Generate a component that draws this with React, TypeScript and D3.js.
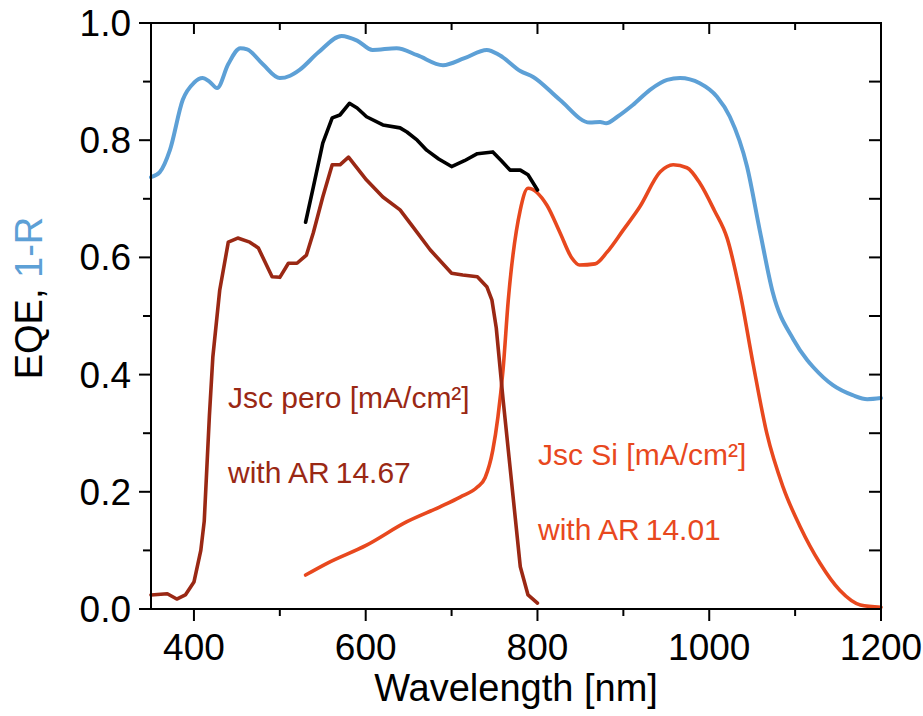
import * as d3 from "d3";
import { useEffect } from "react";

// 1-R (blue)
const reflNm = [350, 360, 372, 387, 400, 410, 418, 427, 440, 454, 462, 480, 500, 512, 523, 545, 572, 590, 608, 636, 660, 690, 715, 741, 756, 780, 795, 826, 861, 873, 880, 893, 911, 931, 951, 966, 989, 1009, 1024, 1044, 1059, 1074, 1098, 1114, 1121, 1144, 1167, 1184, 1200];
const reflVal = [0.737, 0.745, 0.783, 0.869, 0.898, 0.906, 0.9, 0.889, 0.93, 0.957, 0.955, 0.93, 0.906, 0.91, 0.92, 0.95, 0.978, 0.97, 0.954, 0.957, 0.945, 0.928, 0.94, 0.954, 0.945, 0.918, 0.908, 0.869, 0.83, 0.831, 0.829, 0.84, 0.86, 0.886, 0.903, 0.906, 0.897, 0.874, 0.84, 0.755, 0.645, 0.54, 0.46, 0.425, 0.413, 0.382, 0.365, 0.358, 0.36];

// sum EQE (black)
const sumNm = [530, 539, 550, 561, 570, 581, 590, 601, 620, 640, 648, 660, 671, 685, 700, 715, 730, 748, 758, 768, 780, 789, 800];
const sumVal = [0.66, 0.72, 0.795, 0.838, 0.843, 0.863, 0.855, 0.84, 0.826, 0.821, 0.814, 0.8, 0.783, 0.768, 0.755, 0.765, 0.777, 0.78, 0.765, 0.749, 0.749, 0.741, 0.715];

// perovskite EQE (dark red)
const peroNm = [350, 369, 380, 390, 400, 408, 412, 418, 422, 430, 440, 451, 465, 475, 491, 500, 510, 520, 531, 539, 550, 561, 570, 580, 601, 620, 640, 655, 675, 700, 713, 730, 741, 747, 752, 760, 772, 780, 789, 800];
const peroVal = [0.024, 0.026, 0.017, 0.024, 0.046, 0.1, 0.15, 0.33, 0.43, 0.544, 0.626, 0.633, 0.626, 0.616, 0.567, 0.566, 0.59, 0.59, 0.604, 0.642, 0.703, 0.758, 0.758, 0.771, 0.732, 0.703, 0.681, 0.652, 0.613, 0.573, 0.57, 0.567, 0.55, 0.527, 0.48, 0.357, 0.186, 0.072, 0.024, 0.01];

// silicon EQE (orange)
const siNm = [530, 555, 601, 648, 686, 710, 730, 739, 748, 754, 760, 766, 780, 789, 811, 826, 840, 849, 867, 881, 900, 919, 943, 958, 974, 989, 1006, 1021, 1036, 1051, 1067, 1086, 1106, 1129, 1152, 1176, 1200];
const siVal = [0.058, 0.078, 0.109, 0.149, 0.174, 0.191, 0.208, 0.224, 0.271, 0.328, 0.41, 0.527, 0.681, 0.718, 0.689, 0.643, 0.599, 0.587, 0.589, 0.609, 0.647, 0.686, 0.746, 0.758, 0.753, 0.727, 0.68, 0.632, 0.539, 0.419, 0.3, 0.208, 0.14, 0.078, 0.032, 0.007, 0.003];

const xTicks = [400, 600, 800, 1000, 1200];
const xMinor = [500, 700, 900, 1100];
const yTicks = [0, 0.2, 0.4, 0.6, 0.8, 1.0];
const yMinor = [0.1, 0.3, 0.5, 0.7, 0.9];

const BLUE = "#5da0d6";
const DARKRED = "#9a2814";
const ORANGE = "#e8481e";
const FONT = "'Liberation Sans', Arial, sans-serif";

export default function App() {
  const width = 923,
    height = 716;
  const left = 151,
    right = 881,
    top = 23,
    bottom = 609;

  const drawChart = () => {
    d3.select("#eqe-chart").selectAll("*").remove();
    const svg = d3
      .select("#eqe-chart")
      .append("svg")
      .attr("width", width)
      .attr("height", height)
      .style("position", "absolute")
      .style("left", "0px")
      .style("top", "0px")
      .style("background", "#fff");

    const x = d3.scaleLinear().domain([350, 1200]).range([left, right]);
    const y = d3.scaleLinear().domain([0, 1]).range([bottom, top]);

    const line = d3
      .line<[number, number]>()
      .x((d) => x(d[0]))
      .y((d) => y(d[1]));

    const series = [
      { nm: reflNm, val: reflVal, color: BLUE, w: 4, curve: d3.curveMonotoneX },
      { nm: siNm, val: siVal, color: ORANGE, w: 3.6, curve: d3.curveMonotoneX },
      { nm: peroNm, val: peroVal, color: DARKRED, w: 3.6, curve: d3.curveLinear },
      { nm: sumNm, val: sumVal, color: "#000", w: 3.6, curve: d3.curveLinear },
    ];

    series.forEach((s) => {
      const pts = s.nm.map((n, i) => [n, s.val[i]] as [number, number]);
      svg
        .append("path")
        .attr("d", line.curve(s.curve)(pts))
        .attr("fill", "none")
        .attr("stroke", s.color)
        .attr("stroke-width", s.w)
        .attr("stroke-linejoin", "round")
        .attr("stroke-linecap", "round");
    });

    // frame
    svg
      .append("rect")
      .attr("x", left)
      .attr("y", top)
      .attr("width", right - left)
      .attr("height", bottom - top)
      .attr("fill", "none")
      .attr("stroke", "#000")
      .attr("stroke-width", 2);

    const ticks = svg.append("g").attr("stroke", "#000").attr("stroke-width", 2);

    // bottom (outward) and top (inward)
    xTicks.forEach((t) => {
      ticks.append("line").attr("x1", x(t)).attr("x2", x(t)).attr("y1", bottom).attr("y2", bottom + 12);
      ticks.append("line").attr("x1", x(t)).attr("x2", x(t)).attr("y1", top).attr("y2", top + 11);
    });
    xMinor.forEach((t) => {
      ticks.append("line").attr("x1", x(t)).attr("x2", x(t)).attr("y1", bottom).attr("y2", bottom + 7);
      ticks.append("line").attr("x1", x(t)).attr("x2", x(t)).attr("y1", top).attr("y2", top + 7);
    });

    // left (outward) and right (inward)
    yTicks.forEach((t) => {
      ticks.append("line").attr("x1", left - 12).attr("x2", left).attr("y1", y(t)).attr("y2", y(t));
      ticks.append("line").attr("x1", right - 12).attr("x2", right).attr("y1", y(t)).attr("y2", y(t));
    });
    yMinor.forEach((t) => {
      ticks.append("line").attr("x1", left - 8).attr("x2", left).attr("y1", y(t)).attr("y2", y(t));
      ticks.append("line").attr("x1", right - 12).attr("x2", right).attr("y1", y(t)).attr("y2", y(t));
    });

    svg
      .append("g")
      .selectAll("text")
      .data(xTicks)
      .join("text")
      .attr("x", (d) => x(d))
      .attr("y", 660)
      .attr("text-anchor", "middle")
      .attr("font-family", FONT)
      .attr("font-size", 37)
      .text((d) => d);

    svg
      .append("g")
      .selectAll("text")
      .data(yTicks)
      .join("text")
      .attr("x", 131)
      .attr("y", (d) => y(d) + 13)
      .attr("text-anchor", "end")
      .attr("font-family", FONT)
      .attr("font-size", 37)
      .text((d) => d3.format(".1f")(d));

    svg
      .append("text")
      .attr("x", (left + right) / 2)
      .attr("y", 701)
      .attr("text-anchor", "middle")
      .attr("font-family", FONT)
      .attr("font-size", 38)
      .text("Wavelength [nm]");

    const yl = svg
      .append("text")
      .attr("transform", "translate(42, 298) rotate(-90)")
      .attr("text-anchor", "middle")
      .attr("font-family", FONT)
      .attr("font-size", 38);
    yl.append("tspan").attr("fill", "#000").text("EQE, ");
    yl.append("tspan").attr("fill", BLUE).text("1-R");

    const notes = [
      { x: 228, y: 408, text: "Jsc pero [mA/cm²]", color: DARKRED },
      { x: 228, y: 483, text: "with AR\u200914.67", color: DARKRED },
      { x: 538, y: 465, text: "Jsc Si [mA/cm²]", color: ORANGE },
      { x: 538, y: 540, text: "with AR\u200914.01", color: ORANGE },
    ];
    svg
      .append("g")
      .selectAll("text")
      .data(notes)
      .join("text")
      .attr("x", (d) => d.x)
      .attr("y", (d) => d.y)
      .attr("fill", (d) => d.color)
      .attr("font-family", FONT)
      .attr("font-size", 30)
      .text((d) => d.text);
  };

  useEffect(() => {
    drawChart();
  }, []);

  return <div id="eqe-chart"></div>;
}
